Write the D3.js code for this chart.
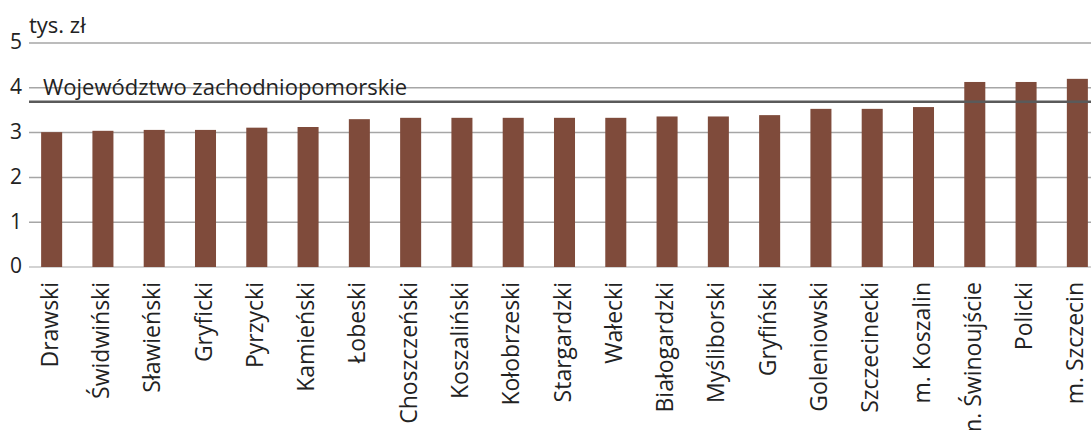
<!DOCTYPE html>
<html><head><meta charset="utf-8">
<script src="https://cdn.jsdelivr.net/npm/d3@7"></script>
<style>body{margin:0;background:#fff}svg{display:block}text{font-family:"Open Sans",sans-serif;fill:#222}</style>
</head><body><svg id="c" width="1091" height="430"></svg>
<script>
const categories = ["Drawski","Świdwiński","Sławieński","Gryficki","Pyrzycki","Kamieński","Łobeski","Choszczeński","Koszaliński","Kołobrzeski","Stargardzki","Wałecki","Białogardzki","Myśliborski","Gryfiński","Goleniowski","Szczecinecki","m. Koszalin","m. Świnoujście","Policki","m. Szczecin"];
const values = [3.01,3.04,3.06,3.06,3.11,3.125,3.30,3.33,3.33,3.33,3.33,3.33,3.36,3.36,3.39,3.53,3.53,3.57,4.13,4.13,4.20];
const yTicks = [0,1,2,3,4,5];
const regionValue = 3.69;
const regionLabel = "Województwo zachodniopomorskie";
const unitLabel = "tys. zł";

const svg = d3.select("#c");
const x = d3.scaleBand().domain(categories).range([26, 1103]).paddingInner(0.59).paddingOuter(0.295);
const y = d3.scaleLinear().domain([0,5]).range([267, 43]);

// gridlines
svg.append("g").selectAll("line").data(yTicks).join("line")
  .attr("x1", 29).attr("x2", 1091)
  .attr("y1", d => y(d)).attr("y2", d => y(d))
  .attr("stroke", d => d === 0 ? "#c4c4c4" : "#a6a6a6").attr("stroke-width", 1.5);

// y tick labels
svg.append("g").selectAll("text").data(yTicks).join("text")
  .attr("x", 22).attr("y", d => y(d)).attr("dy", "0.3em")
  .attr("text-anchor", "end").style("font-size", "21px").text(d => d);

// bars
svg.append("g").selectAll("rect").data(values).join("rect")
  .attr("x", (d,i) => x(categories[i])).attr("width", x.bandwidth())
  .attr("y", d => y(d)).attr("height", d => y(0) - y(d))
  .attr("fill", "#7f4b3b");

// region line
svg.append("line").attr("x1", 29).attr("x2", 1091)
  .attr("y1", y(regionValue)).attr("y2", y(regionValue))
  .attr("stroke", "#5a5a5a").attr("stroke-width", 2.5);
svg.append("text").attr("x", 43).attr("y", 95).style("font-size", "22px").text(regionLabel);

// unit label
svg.append("text").attr("x", 29).attr("y", 33).style("font-size", "22px").text(unitLabel);

// category labels
svg.append("g").selectAll("text").data(categories).join("text")
  .attr("transform", d => `translate(${x(d) + x.bandwidth()/2 + 6},282) rotate(-90)`)
  .attr("text-anchor", "end").style("font-size", "23px").text(d => d);
</script></body></html>
